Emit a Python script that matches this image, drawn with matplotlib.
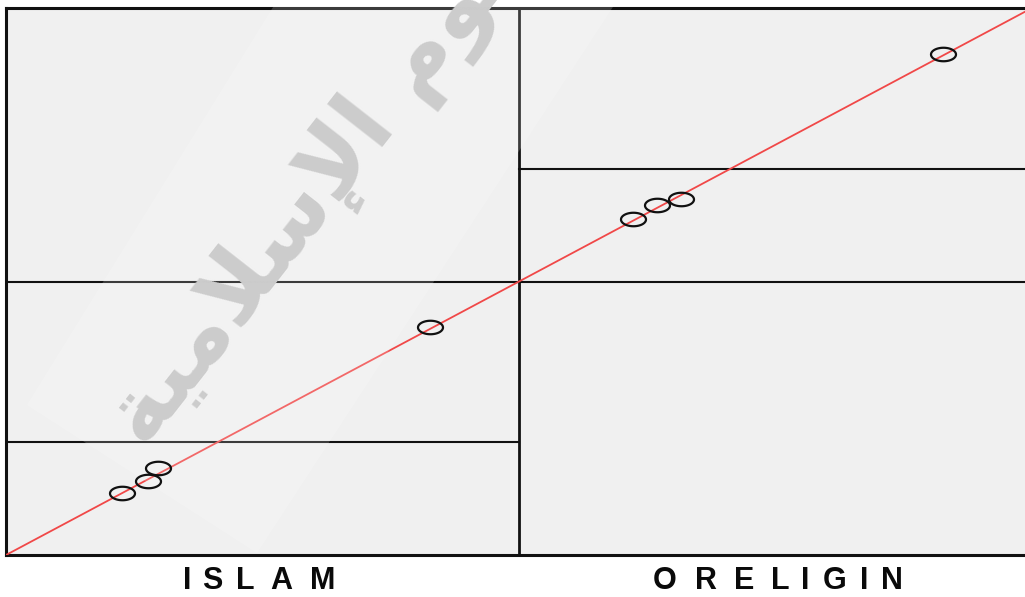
import numpy as np
import matplotlib
matplotlib.use('Agg')
import matplotlib.pyplot as plt
from matplotlib.path import Path
from matplotlib.patches import Polygon

# object scores for the two religion groups (dimension 1 vs dimension 2 scale)
groups = ['ISLAM', 'ORELIGIN']
islam_x = [-0.774, -0.723, -0.704, -0.173]
islam_y = [-0.774, -0.730, -0.682, -0.168]
orel_x = [0.222, 0.269, 0.316, 0.826]
orel_y = [0.230, 0.281, 0.303, 0.832]

W, H = 1025, 597
fig = plt.figure(figsize=(W / 100, H / 100), dpi=100)
fig.patch.set_facecolor('white')

# plot frame runs a bit past the right edge of the canvas
ax = fig.add_axes([6 / W, 42 / H, 1026 / W, 547 / H])
ax.set_facecolor('#f0f0f0')
ax.set_xlim(-1, 1)
ax.set_ylim(-1, 1)
ax.set_xticks([])
ax.set_yticks([])
for sp in ax.spines.values():
    sp.set_linewidth(2.2)
    sp.set_color('#111111')

# panel divider and zero line
ax.axvline(0, color='#111111', lw=2.0, zorder=2)
ax.axhline(0, color='#111111', lw=1.5, zorder=2)

# group means
ax.plot([-1, 0], [np.mean(islam_y)] * 2, color='#111111', lw=1.5, zorder=2)
ax.plot([0, 1], [np.mean(orel_y)] * 2, color='#111111', lw=1.5, zorder=2)

# reference line
ax.plot([-1, 1], [-1, 1], color='#f04848', lw=1.3, zorder=3)

# flattened circle marker
t = np.linspace(0, 2 * np.pi, 60)
ell = Path(np.column_stack([np.cos(t), 0.54 * np.sin(t)]), closed=True)
for xs, ys in [(islam_x, islam_y), (orel_x, orel_y)]:
    ax.plot(xs, ys, ls='none', marker=ell, ms=18, mfc='none',
            mec='#111111', mew=1.6, zorder=5)

# group labels, spread out wide
renderer = fig.canvas.get_renderer()
prop = matplotlib.font_manager.FontProperties(family='Liberation Sans',
                                              weight='bold', size=22)


def spaced_label(text, cx, cy, width):
    ws = [renderer.get_text_width_height_descent(c, prop, ismath=False)[0]
          for c in text]
    scale = width / sum(ws)
    x = cx - width / 2
    for c, w in zip(text, ws):
        fig.text((x + scale * w / 2) / W, 1 - cy / H, c, fontproperties=prop,
                 ha='center', va='center', color='#0a0a0a')
        x += scale * w


spaced_label(groups[0], 262, 581, 165)
spaced_label(groups[1], 777, 581, 269)

# watermark
wm = '\ufe94\ufef4\ufee3\ufefc\ufeb3\ufef9\ufe8d \ufee1\ufeee\ufee0\ufecc\ufedf\ufe8d'
ax.text(145 / W, 1 - 450 / H, wm, transform=fig.transFigure,
        family=['DejaVu Sans'], weight='bold', fontsize=66, color='#c2c2c2',
        rotation=52, rotation_mode='anchor', ha='left', va='baseline',
        clip_on=False, zorder=3.5)

# faint light band behind the watermark
band = [(27, 405), (257, 553), (637, -30), (296, -30)]
ax.add_patch(Polygon([(x / W, 1 - y / H) for x, y in band], closed=True,
                     transform=fig.transFigure, facecolor='white',
                     edgecolor='none', alpha=0.18, clip_on=False, zorder=4))

fig.savefig('out.png', dpi=100)
